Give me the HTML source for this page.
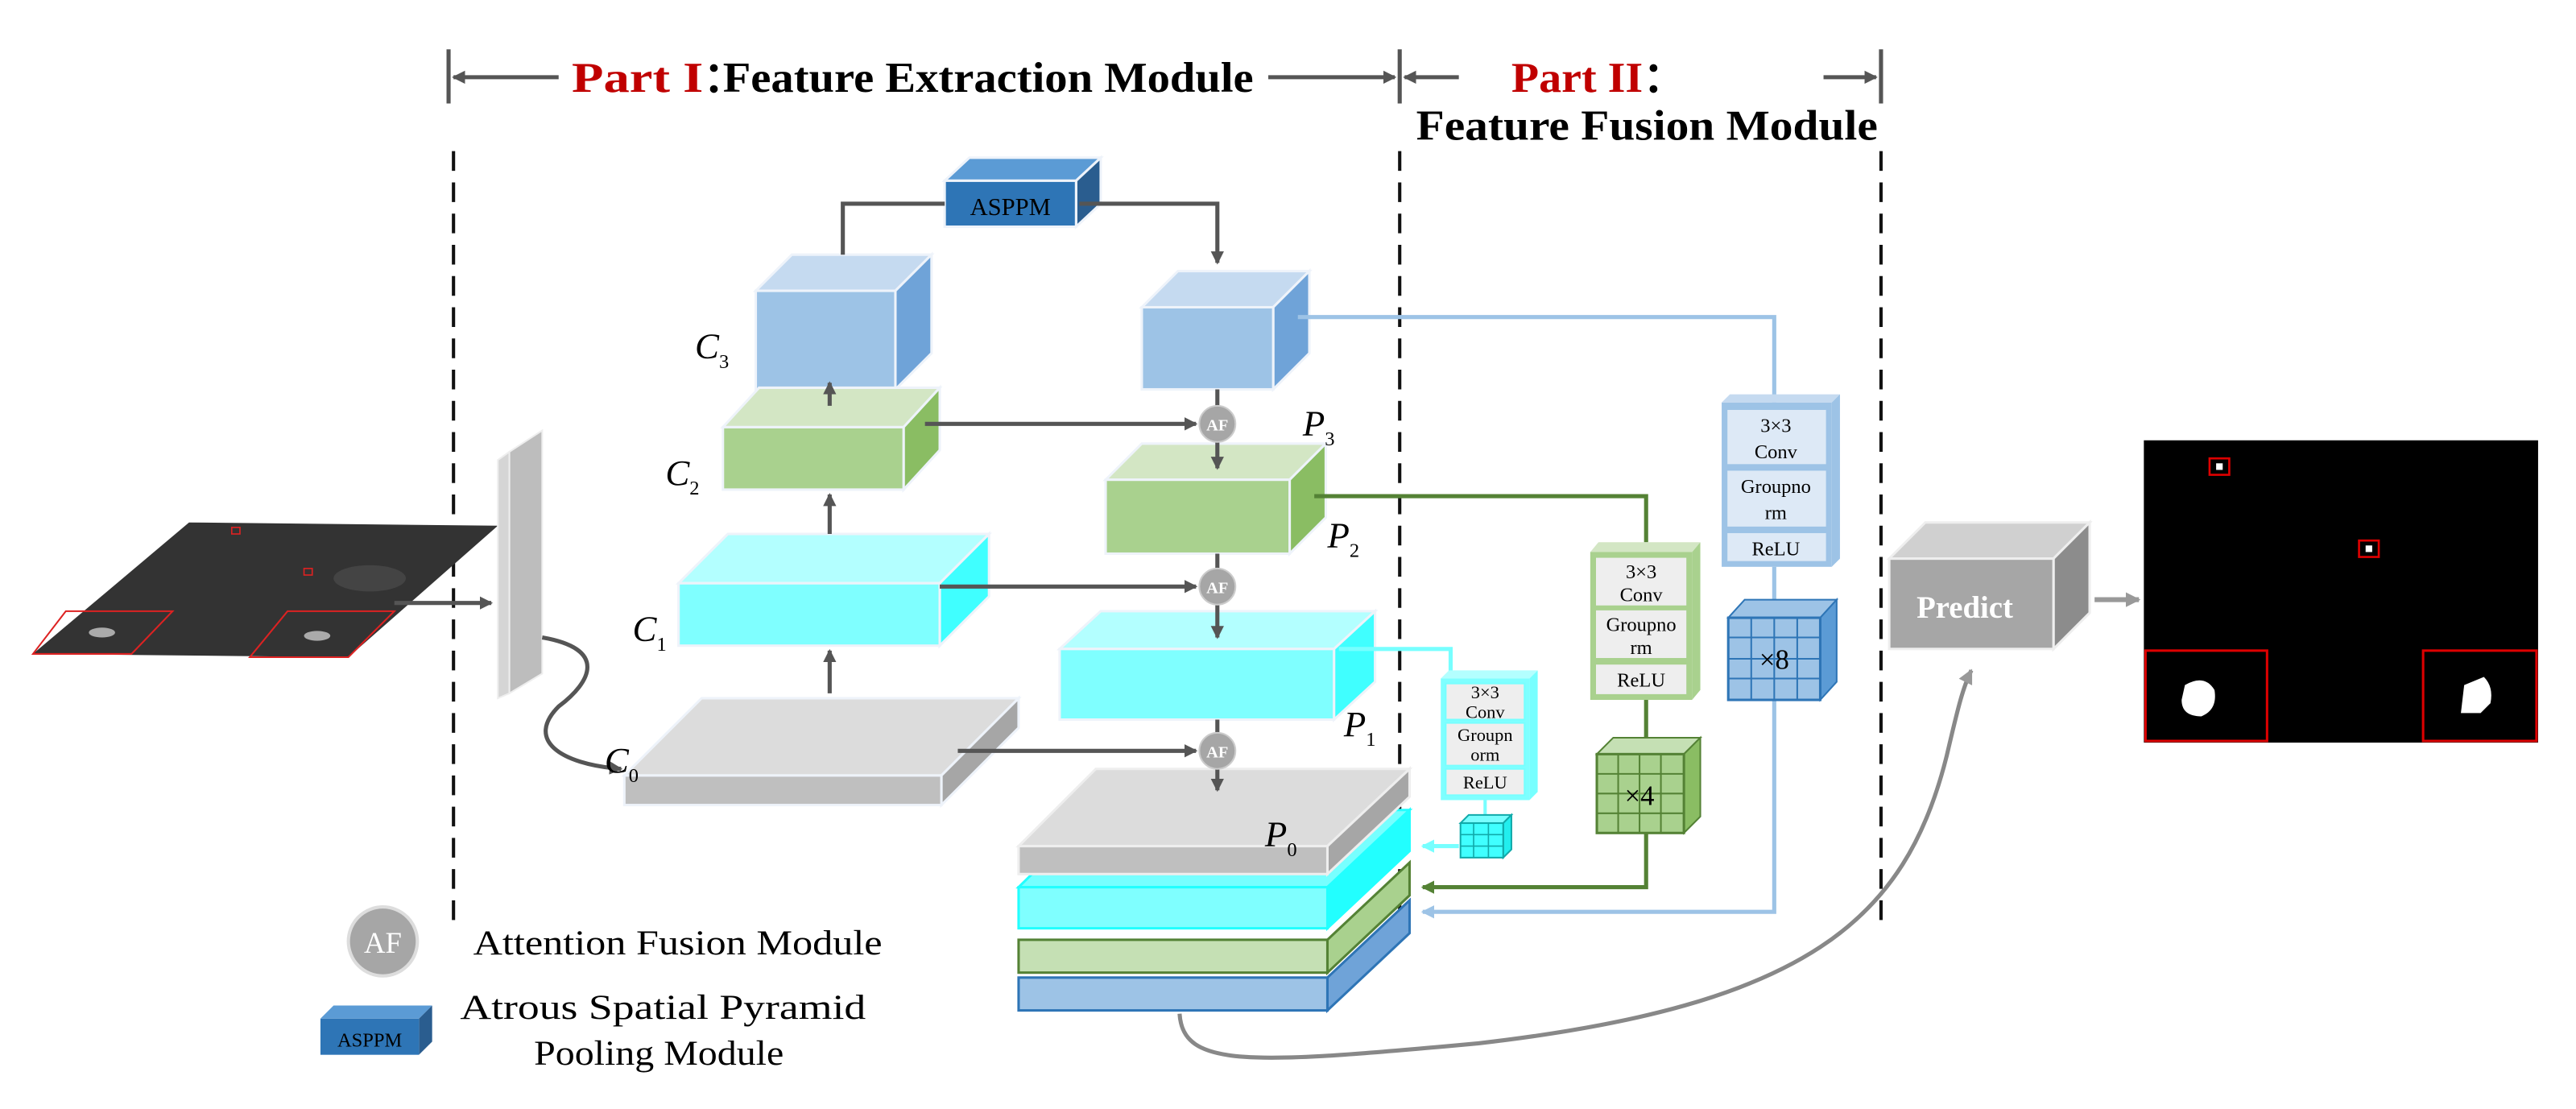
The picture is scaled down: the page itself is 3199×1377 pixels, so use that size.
<!DOCTYPE html>
<html><head><meta charset="utf-8"><style>html,body{margin:0;padding:0;background:#fff}svg{display:block}</style></head>
<body>
<svg width="3199" height="1377" viewBox="0 0 1568 675" xmlns="http://www.w3.org/2000/svg" font-family="Liberation Serif, serif">
<defs>
<marker id="ad" markerWidth="8" markerHeight="8" refX="7" refY="4" orient="auto" markerUnits="userSpaceOnUse"><path d="M0,0 L8,4 L0,8 z" fill="#555"/></marker>
<marker id="ab" markerWidth="8" markerHeight="8" refX="7" refY="4" orient="auto" markerUnits="userSpaceOnUse"><path d="M0,0 L8,4 L0,8 z" fill="#9dc3e6"/></marker>
<marker id="ag" markerWidth="8" markerHeight="8" refX="7" refY="4" orient="auto" markerUnits="userSpaceOnUse"><path d="M0,0 L8,4 L0,8 z" fill="#548235"/></marker>
<marker id="ac" markerWidth="8" markerHeight="8" refX="7" refY="4" orient="auto" markerUnits="userSpaceOnUse"><path d="M0,0 L8,4 L0,8 z" fill="#7ff"/></marker>
<marker id="ay" markerWidth="9" markerHeight="9" refX="8" refY="4.5" orient="auto" markerUnits="userSpaceOnUse"><path d="M0,0 L9,4.5 L0,9 z" fill="#999"/></marker>
</defs>
<!-- header -->
<g stroke="#555" stroke-width="2.5" fill="none">
<line x1="273" y1="30" x2="273" y2="63"/><line x1="852" y1="30" x2="852" y2="63"/><line x1="1145" y1="30" x2="1145" y2="63"/>
<line x1="340" y1="47" x2="276" y2="47" marker-end="url(#ad)"/>
<line x1="772" y1="47" x2="849" y2="47" marker-end="url(#ad)"/>
<line x1="888" y1="47" x2="855" y2="47" marker-end="url(#ad)"/>
<line x1="1110" y1="47" x2="1142" y2="47" marker-end="url(#ad)"/>
</g>
<text x="348" y="56" font-size="26" font-weight="bold" fill="#c00000" textLength="80" lengthAdjust="spacingAndGlyphs">Part I</text>
<text x="428" y="56" font-size="26" font-weight="bold">：</text>
<text x="440" y="56" font-size="26" font-weight="bold" textLength="323" lengthAdjust="spacingAndGlyphs">Feature Extraction Module</text>
<text x="920" y="56" font-size="26" font-weight="bold" fill="#c00000" textLength="80" lengthAdjust="spacingAndGlyphs">Part II</text>
<text x="1000" y="56" font-size="26" font-weight="bold">：</text>
<text x="862" y="85" font-size="26" font-weight="bold" textLength="281" lengthAdjust="spacingAndGlyphs">Feature Fusion Module</text>
<g stroke="#111" stroke-width="2" stroke-dasharray="12,7">
<line x1="276" y1="92" x2="276" y2="560"/><line x1="852" y1="92" x2="852" y2="560"/><line x1="1145" y1="92" x2="1145" y2="560"/>
</g>
<!-- input image -->
<polygon points="115,318 303,320 212,400 20,398" fill="#333"/>
<polygon points="40,372 105,372 80,398 20,398" fill="none" stroke="#d22" stroke-width="1"/>
<polygon points="175,372 240,372 212,400 152,400" fill="none" stroke="#d22" stroke-width="1"/>
<ellipse cx="62" cy="385" rx="8" ry="3" fill="#aaa"/><ellipse cx="193" cy="387" rx="8" ry="3" fill="#aaa"/>
<ellipse cx="225" cy="352" rx="22" ry="8" fill="#444"/>
<rect x="141" y="321" width="5" height="4" fill="none" stroke="#d22" stroke-width="0.8"/>
<rect x="185" y="346" width="5" height="4" fill="none" stroke="#d22" stroke-width="0.8"/>
<line x1="240" y1="367" x2="299" y2="367" stroke="#555" stroke-width="2.5" marker-end="url(#ad)"/>
<!-- gray panel -->
<polygon points="310,275 330,262 330,410 310,422" fill="#bdbdbd" stroke="#eee"/>
<polygon points="303,280 310,275 310,422 303,425" fill="#d5d5d5" stroke="#eee"/>
<path d="M330,388 C370,395 360,415 340,430 C320,450 340,465 378,468" fill="none" stroke="#555" stroke-width="2.5" marker-end="url(#ad)"/>
<g stroke="#eef3fa" stroke-width="1.5">
<polygon points="575,110 590,96 670,96 655,110" fill="#5b9bd5"/><polygon points="655,110 670,96 670,124 655,138" fill="#2a5d8f"/><rect x="575" y="110" width="80" height="28" fill="#2e75b6"/>
<polygon points="460,177 482,155 567,155 545,177" fill="#c5daf0"/><polygon points="545,177 567,155 567,215 545,237" fill="#6fa3d8"/><rect x="460" y="177" width="85" height="60" fill="#9dc3e6"/>
<polygon points="440,260 462,236 572,236 550,260" fill="#d3e6c4"/><polygon points="550,260 572,236 572,274 550,298" fill="#8abd63"/><rect x="440" y="260" width="110" height="38" fill="#a9d18e"/>
<polygon points="413,355 443,325 602,325 572,355" fill="#b3ffff"/><polygon points="572,355 602,325 602,363 572,393" fill="#40ffff"/><rect x="413" y="355" width="159" height="38" fill="#7fffff"/>
<polygon points="380,472 427,425 620,425 573,472" fill="#dcdcdc"/><polygon points="573,472 620,425 620,443 573,490" fill="#a6a6a6"/><rect x="380" y="472" width="193" height="18" fill="#bfbfbf"/>
<polygon points="695,187 717,165 797,165 775,187" fill="#c5daf0"/><polygon points="775,187 797,165 797,215 775,237" fill="#6fa3d8"/><rect x="695" y="187" width="80" height="50" fill="#9dc3e6"/>
<polygon points="673,292 695,270 807,270 785,292" fill="#d3e6c4"/><polygon points="785,292 807,270 807,315 785,337" fill="#8abd63"/><rect x="673" y="292" width="112" height="45" fill="#a9d18e"/>
<polygon points="645,395 670,372 837,372 812,395" fill="#b3ffff"/><polygon points="812,395 837,372 837,415 812,438" fill="#40ffff"/><rect x="645" y="395" width="167" height="43" fill="#7fffff"/>
</g>
<g stroke-width="1.5">
<polygon points="808,595 858,548 858,568 808,615" fill="#6fa3d8" stroke="#2e75b6"/><rect x="620" y="595" width="188" height="20" fill="#9dc3e6" stroke="#2e75b6"/>
<polygon points="808,572 858,525 858,545 808,592" fill="#a9d18e" stroke="#548235"/><rect x="620" y="572" width="188" height="20" fill="#c5e0b4" stroke="#548235"/>
<polygon points="620,540 668,493 858,493 808,540" fill="#7ff" stroke="#2ff"/><polygon points="808,540 858,493 858,518 808,565" fill="#2ff" stroke="#2ff"/><rect x="620" y="540" width="188" height="25" fill="#7fffff" stroke="#2ff"/>
</g>
<g stroke="#eee" stroke-width="1.5">
<polygon points="620,515 667,468 858,468 808,515" fill="#dcdcdc"/><polygon points="808,515 858,468 858,485 808,532" fill="#a6a6a6"/><rect x="620" y="515" width="188" height="17" fill="#bfbfbf"/>
</g>
<text x="615" y="131" font-size="15" fill="#000" text-anchor="middle">ASPPM</text>
<g font-size="22" font-style="italic">
<text x="423" y="218">C<tspan font-size="12" dy="6" font-style="normal">3</tspan></text>
<text x="405" y="295">C<tspan font-size="12" dy="6" font-style="normal">2</tspan></text>
<text x="385" y="390">C<tspan font-size="12" dy="6" font-style="normal">1</tspan></text>
<text x="368" y="470">C<tspan font-size="12" dy="6" font-style="normal">0</tspan></text>
<text x="793" y="265">P<tspan font-size="12" dy="6" font-style="normal">3</tspan></text>
<text x="808" y="333">P<tspan font-size="12" dy="6" font-style="normal">2</tspan></text>
<text x="818" y="448">P<tspan font-size="12" dy="6" font-style="normal">1</tspan></text>
<text x="770" y="515">P<tspan font-size="12" dy="6" font-style="normal">0</tspan></text>
</g>
<g stroke="#555" stroke-width="2.5" fill="none">
<polyline points="575,124 513,124 513,155"/>
<polyline points="657,124 741,124 741,160" marker-end="url(#ad)"/>
<line x1="505" y1="247" x2="505" y2="233" marker-end="url(#ad)"/>
<line x1="505" y1="325" x2="505" y2="301" marker-end="url(#ad)"/>
<line x1="505" y1="422" x2="505" y2="396" marker-end="url(#ad)"/>
<line x1="563" y1="258" x2="728" y2="258" marker-end="url(#ad)"/>
<line x1="572" y1="357" x2="728" y2="357" marker-end="url(#ad)"/>
<line x1="583" y1="457" x2="728" y2="457" marker-end="url(#ad)"/>
<line x1="741" y1="237" x2="741" y2="247"/><line x1="741" y1="269" x2="741" y2="285" marker-end="url(#ad)"/>
<line x1="741" y1="337" x2="741" y2="346"/><line x1="741" y1="368" x2="741" y2="388" marker-end="url(#ad)"/>
<line x1="741" y1="438" x2="741" y2="446"/><line x1="741" y1="468" x2="741" y2="481" marker-end="url(#ad)"/>
</g>
<g font-size="10" font-weight="bold" fill="#fff" text-anchor="middle">
<circle cx="741" cy="258" r="11" fill="#a6a6a6" stroke="#ccc"/><text x="741" y="262">AF</text>
<circle cx="741" cy="357" r="11" fill="#a6a6a6" stroke="#ccc"/><text x="741" y="361">AF</text>
<circle cx="741" cy="457" r="11" fill="#a6a6a6" stroke="#ccc"/><text x="741" y="461">AF</text>
</g>
<g fill="none" stroke-width="2.5">
<polyline points="790,193 1080,193 1080,245" stroke="#9dc3e6"/>
<polyline points="1080,345 1080,555 866,555" stroke="#9dc3e6" marker-end="url(#ab)"/>
<polyline points="800,302 1002,302 1002,330" stroke="#548235"/>
<polyline points="1002,425 1002,540 866,540" stroke="#548235" marker-end="url(#ag)"/>
<polyline points="815,395 883,395 883,410" stroke="#7ff"/>
<line x1="888" y1="515" x2="866" y2="515" stroke="#7ff" marker-end="url(#ac)"/>
</g>
<polygon points="1048,245 1053,240 1120,240 1115,245" fill="#c5daf0"/><polygon points="1115,245 1120,240 1120,340 1115,345" fill="#9dc3e6"/>
<rect x="1048" y="245" width="67" height="100" fill="#9dc3e6"/>
<g fill="#dde9f6" stroke="#9dc3e6"><rect x="1051" y="249" width="61" height="34"/><rect x="1051" y="286" width="61" height="35"/><rect x="1051" y="324" width="61" height="18"/></g>
<g font-size="12" text-anchor="middle"><text x="1081" y="263">3×3</text><text x="1081" y="279">Conv</text><text x="1081" y="300">Groupno</text><text x="1081" y="316">rm</text><text x="1081" y="338">ReLU</text></g>
<polygon points="1052,376 1062,365 1118,365 1108,376" fill="#9dc3e6" stroke="#2e75b6"/><polygon points="1108,376 1118,365 1118,415 1108,426" fill="#5b9bd5" stroke="#2e75b6"/>
<rect x="1052" y="376" width="56" height="50" fill="#9dc3e6" stroke="#2e75b6" stroke-width="1.5"/>
<g stroke="#2e75b6"><line x1="1066" y1="376" x2="1066" y2="426"/><line x1="1080" y1="376" x2="1080" y2="426"/><line x1="1094" y1="376" x2="1094" y2="426"/><line x1="1052" y1="388" x2="1108" y2="388"/><line x1="1052" y1="401" x2="1108" y2="401"/><line x1="1052" y1="413" x2="1108" y2="413"/></g>
<text x="1080" y="407" font-size="17" text-anchor="middle">×8</text>
<polygon points="968,336 973,330 1035,330 1030,336" fill="#d3e6c4"/><polygon points="1030,336 1035,330 1035,420 1030,426" fill="#a9d18e"/>
<rect x="968" y="336" width="62" height="90" fill="#a9d18e"/>
<g fill="#eee" stroke="#a9d18e"><rect x="971" y="339" width="56" height="30"/><rect x="971" y="371" width="56" height="30"/><rect x="971" y="404" width="56" height="19"/></g>
<g font-size="12" text-anchor="middle"><text x="999" y="352">3×3</text><text x="999" y="366">Conv</text><text x="999" y="384">Groupno</text><text x="999" y="398">rm</text><text x="999" y="418">ReLU</text></g>
<polygon points="972,459 982,449 1035,449 1025,459" fill="#c5e0b4" stroke="#548235"/><polygon points="1025,459 1035,449 1035,497 1025,507" fill="#8abd63" stroke="#548235"/>
<rect x="972" y="459" width="53" height="48" fill="#a9d18e" stroke="#548235" stroke-width="1.5"/>
<g stroke="#548235"><line x1="985" y1="459" x2="985" y2="507"/><line x1="998" y1="459" x2="998" y2="507"/><line x1="1011" y1="459" x2="1011" y2="507"/><line x1="972" y1="471" x2="1025" y2="471"/><line x1="972" y1="483" x2="1025" y2="483"/><line x1="972" y1="495" x2="1025" y2="495"/></g>
<text x="998" y="490" font-size="17" text-anchor="middle">×4</text>
<polygon points="877,413 882,408 936,408 931,413" fill="#b3ffff"/><polygon points="931,413 936,408 936,482 931,487" fill="#7ff"/>
<rect x="877" y="413" width="54" height="74" fill="#7fffff"/>
<g fill="#eee" stroke="#7ff"><rect x="880" y="416" width="48" height="22"/><rect x="880" y="440" width="48" height="26"/><rect x="880" y="468" width="48" height="16"/></g>
<g font-size="11" text-anchor="middle"><text x="904" y="425">3×3</text><text x="904" y="437">Conv</text><text x="904" y="451">Groupn</text><text x="904" y="463">orm</text><text x="904" y="480">ReLU</text></g>
<line x1="904" y1="487" x2="904" y2="497" stroke="#7ff" stroke-width="2"/>
<polygon points="889,501 894,496 920,496 915,501" fill="#7ff" stroke="#1aa"/><polygon points="915,501 920,496 920,517 915,522" fill="#2ee" stroke="#1aa"/>
<rect x="889" y="501" width="26" height="21" fill="#40ffff" stroke="#1aa"/>
<g stroke="#1aa" stroke-width="0.8"><line x1="897" y1="501" x2="897" y2="522"/><line x1="906" y1="501" x2="906" y2="522"/><line x1="889" y1="508" x2="915" y2="508"/><line x1="889" y1="515" x2="915" y2="515"/></g>
<g stroke="#eee" stroke-width="1.5">
<polygon points="1150,340 1172,318 1272,318 1250,340" fill="#d0d0d0"/><polygon points="1250,340 1272,318 1272,373 1250,395" fill="#8c8c8c"/><rect x="1150" y="340" width="100" height="55" fill="#a6a6a6"/>
</g>
<text x="1196" y="376" font-size="19" font-weight="bold" fill="#fff" text-anchor="middle">Predict</text>
<line x1="1275" y1="365" x2="1302" y2="365" stroke="#999" stroke-width="3" marker-end="url(#ay)"/>
<path d="M718,617 C720,650 760,648 900,635 C1100,612 1160,560 1185,460 C1192,430 1195,418 1200,408" fill="none" stroke="#888" stroke-width="2.5" marker-end="url(#ay)"/>
<rect x="1305" y="268" width="240" height="184" fill="#000"/>
<rect x="1345" y="279" width="12" height="10" fill="none" stroke="#d00" stroke-width="1.3"/><rect x="1349" y="282" width="4" height="4" fill="#fff"/>
<rect x="1436" y="329" width="12" height="10" fill="none" stroke="#d00" stroke-width="1.3"/><rect x="1440" y="332" width="4" height="4" fill="#fff"/>
<rect x="1306" y="396" width="74" height="55" fill="none" stroke="#d00" stroke-width="1.5"/>
<rect x="1475" y="396" width="69" height="55" fill="none" stroke="#d00" stroke-width="1.5"/>
<path d="M1330,417 Q1342,410 1348,420 Q1350,432 1340,436 Q1328,436 1328,426 Z" fill="#fff"/>
<path d="M1500,417 L1512,412 Q1518,418 1516,428 L1510,434 L1498,434 Z" fill="#fff"/>
<circle cx="233" cy="573" r="21" fill="#a6a6a6" stroke="#ddd" stroke-width="2"/>
<text x="233" y="580" font-size="18" fill="#fff" text-anchor="middle">AF</text>
<text x="288" y="581" font-size="21" textLength="249" lengthAdjust="spacingAndGlyphs">Attention Fusion Module</text>
<polygon points="195,620 203,612 263,612 255,620" fill="#5b9bd5"/><polygon points="255,620 263,612 263,634 255,642" fill="#2a5d8f"/>
<rect x="195" y="620" width="60" height="22" fill="#2e75b6"/>
<text x="225" y="637" font-size="12" text-anchor="middle">ASPPM</text>
<text x="280" y="620" font-size="21" textLength="247" lengthAdjust="spacingAndGlyphs">Atrous Spatial Pyramid</text>
<text x="325" y="648" font-size="21" textLength="152" lengthAdjust="spacingAndGlyphs">Pooling Module</text>
</svg>
</body></html>
